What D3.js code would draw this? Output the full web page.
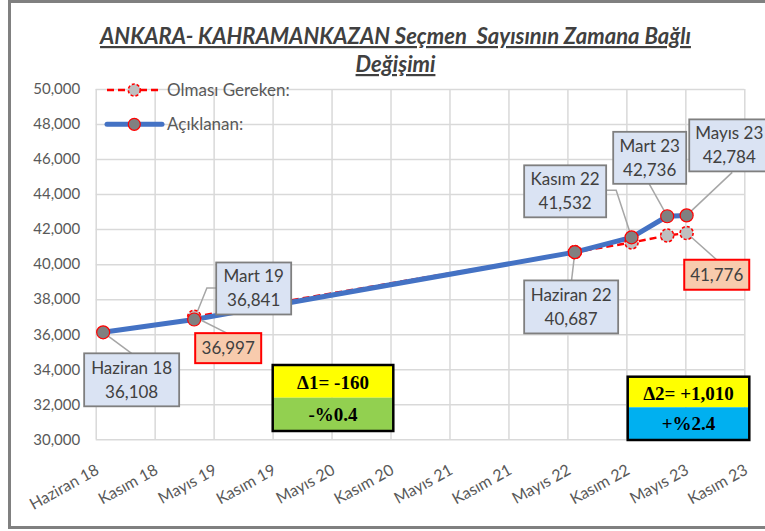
<!DOCTYPE html>
<html>
<head>
<meta charset="utf-8">
<script src="https://cdn.jsdelivr.net/npm/d3@7"></script>
<style>
body{margin:0;background:#fff;}
svg text{font-family:Lato,"Open Sans",sans-serif;}
</style>
</head>
<body>
<svg id="chart" width="765" height="531"></svg>
<script>
const titleLines = ['ANKARA- KAHRAMANKAZAN Seçmen  Sayısının Zamana Bağlı', 'Değişimi'];
const seriesNames = ['Olması Gereken:', 'Açıklanan:'];

// Açıklanan (blue)
const actualDates = ['2018-06-24','2019-04-01','2022-06-19','2022-12-11','2023-03-31','2023-05-30'];
const actualNames = ['Haziran 18','Mart 19','Haziran 22','Kasım 22','Mart 23','Mayıs 23'];
const actualValues = [36108, 36841, 40687, 41532, 42736, 42784];

// Olması Gereken (red dashed)
const expectedDates = ['2019-04-01','2022-06-19','2022-12-11','2023-03-31','2023-05-30'];
const expectedValues = [36997, 40687, 41234, 41634, 41776];

const yTicks = [30000, 32000, 34000, 36000, 38000, 40000, 42000, 44000, 46000, 48000, 50000];
const xTickDates = ['2018-06-01','2018-11-30','2019-05-31','2019-11-29','2020-05-29','2020-11-27',
                    '2021-05-28','2021-11-26','2022-05-27','2022-11-25','2023-05-26','2023-11-24'];
const xTickLabels = ['Haziran 18','Kasım 18','Mayıs 19','Kasım 19','Mayıs 20','Kasım 20',
                     'Mayıs 21','Kasım 21','Mayıs 22','Kasım 22','Mayıs 23','Kasım 23'];

const deltaTexts = [['Δ1= -160', '-%0.4'], ['Δ2= +1,010', '+%2.4']];

const parse = d3.timeParse('%Y-%m-%d');
const fmt = d3.format(',');
const actual = actualDates.map((d,i)=>({date: parse(d), value: actualValues[i], name: actualNames[i]}));
const expected = expectedDates.map((d,i)=>({date: parse(d), value: expectedValues[i]}));

const svg = d3.select('#chart');
const P = {l: 95.7, r: 744.3, t: 89, b: 439.3};

const x = d3.scaleTime().domain([parse(xTickDates[0]), parse(xTickDates[xTickDates.length-1])]).range([P.l, P.r]);
const y = d3.scaleLinear().domain([30000, 50000]).range([P.b, P.t]);

// outer frame
svg.append('rect').attr('x', 9.5).attr('y', 1.5).attr('width', 780).attr('height', 526)
  .attr('fill', '#fff').attr('stroke', '#808080').attr('stroke-width', 3);

// title
const title = svg.append('text').attr('text-anchor', 'middle')
  .attr('fill', '#404040').attr('font-size', 22).attr('font-weight', 'bold').attr('font-style', 'italic')
  .style('text-decoration', 'underline').style('white-space', 'pre');
title.selectAll('tspan').data(titleLines).enter().append('tspan')
  .attr('x', 395.5).attr('y', (d,i)=>44 + i*28).text(d=>d);

// y axis + horizontal grid
const gy = svg.append('g').attr('transform', 'translate(' + P.l + ',0)')
  .call(d3.axisLeft(y).tickValues(yTicks).tickSize(-(P.r - P.l)).tickPadding(15.5).tickFormat(fmt));
gy.select('.domain').remove();
gy.selectAll('line').attr('stroke', '#d9d9d9').attr('stroke-width', 1.5);
gy.selectAll('text').attr('fill', '#595959').attr('font-size', 15).attr('font-family', 'Lato');

// x axis + vertical grid
const gx = svg.append('g').attr('transform', 'translate(0,' + P.b + ')')
  .call(d3.axisBottom(x).tickValues(xTickDates.map(parse)).tickSize(-(P.b - P.t)).tickFormat((d,i)=>xTickLabels[i]));
gx.select('.domain').remove();
gx.selectAll('line').attr('stroke', '#d9d9d9').attr('stroke-width', 1.5);
gx.selectAll('text').attr('fill', '#595959').attr('font-size', 16).attr('font-family', 'Lato')
  .attr('text-anchor', 'end').attr('y', 0).attr('dy', 0)
  .attr('transform', 'translate(4,34) rotate(-29)');

// lines
const line = d3.line().x(d=>x(d.date)).y(d=>y(d.value));
svg.append('path').datum(expected).attr('d', line).attr('fill', 'none')
  .attr('stroke', '#ff0000').attr('stroke-width', 2.5).attr('stroke-dasharray', '7,4');
svg.append('path').datum(actual).attr('d', line).attr('fill', 'none')
  .attr('stroke', '#4472c4').attr('stroke-width', 5).attr('stroke-linejoin', 'round');

// data label layout: box offset from point, size, leader anchor in box, optional elbow
const labelLayout = [
  {s:'a', i:0, dx:-19,    dy:21,    w:95, h:53, ax:47.4, ay:0},
  {s:'a', i:1, dx:22,     dy:-57,   w:75, h:52, ax:0,    ay:25.6, elbow:-9.3},
  {s:'e', i:0, dx:1,      dy:16.4,  w:66, h:30, ax:31.7, ay:0},
  {s:'a', i:2, dx:-50.7,  dy:28.3,  w:94, h:53, ax:47.4, ay:0},
  {s:'a', i:3, dx:-107.4, dy:-72,   w:82, h:52, ax:82,   ay:25,   elbow:10},
  {s:'a', i:4, dx:-54,    dy:-84.4, w:73, h:52, ax:36,   ay:52},
  {s:'a', i:5, dx:2.6,    dy:-96,   w:80, h:52, ax:43,   ay:53},
  {s:'e', i:4, dx:-2.4,   dy:26.7,  w:65, h:30, ax:32.4, ay:0}
];

const labels = labelLayout.map(L=>{
  const d = (L.s === 'a' ? actual : expected)[L.i];
  const px = x(d.date), py = y(d.value);
  const bx = px + L.dx, by = py + L.dy;
  const lines = L.s === 'a' ? [d.name, fmt(d.value)] : [fmt(d.value)];
  return {L, px, py, bx, by, lines, red: L.s === 'e'};
});

// leaders
svg.append('g').selectAll('path').data(labels).enter().append('path')
  .attr('d', o=>{
    const ax = o.bx + o.L.ax, ay = o.by + o.L.ay;
    const pts = [[o.px, o.py]];
    if(o.L.elbow) pts.push([ax + o.L.elbow, ay]);
    pts.push([ax, ay]);
    return d3.line()(pts);
  })
  .attr('fill', 'none').attr('stroke', '#a6a6a6').attr('stroke-width', 1.5);

// markers
svg.append('g').selectAll('circle').data(expected).enter().append('circle')
  .attr('cx', d=>x(d.date)).attr('cy', d=>y(d.value)).attr('r', 6.5)
  .attr('fill', '#bfbfbf').attr('stroke', '#ff0000').attr('stroke-width', 1.6).attr('stroke-dasharray', '3,2');
svg.append('g').selectAll('circle').data(actual).enter().append('circle')
  .attr('cx', d=>x(d.date)).attr('cy', d=>y(d.value)).attr('r', 6.5)
  .attr('fill', '#808080').attr('stroke', '#ff0000').attr('stroke-width', 1.2);

// label boxes
const lg = svg.append('g').selectAll('g').data(labels).enter().append('g');
lg.append('rect').attr('x', o=>o.bx).attr('y', o=>o.by).attr('width', o=>o.L.w).attr('height', o=>o.L.h)
  .attr('fill', o=>o.red ? '#f8cbad' : '#dae3f3')
  .attr('stroke', o=>o.red ? '#ff0000' : '#7f7f7f').attr('stroke-width', o=>o.red ? 2 : 1.8);
lg.each(function(o){
  const g = d3.select(this);
  const cx = o.bx + o.L.w/2, cy = o.by + o.L.h/2;
  o.lines.forEach((t,k)=>{
    g.append('text').attr('x', cx).attr('y', cy + (k - (o.lines.length-1)/2)*24)
      .attr('dy', '0.35em').attr('text-anchor', 'middle')
      .attr('fill', '#404040').attr('font-size', 17).text(t);
  });
});

// legend
const legendY = [90, 124.3];
const leg = svg.append('g');
leg.append('line').attr('x1', 107).attr('x2', 162).attr('y1', legendY[0]).attr('y2', legendY[0])
  .attr('stroke', '#ff0000').attr('stroke-width', 2.5).attr('stroke-dasharray', '7,4');
leg.append('circle').attr('cx', 134.3).attr('cy', legendY[0]).attr('r', 6)
  .attr('fill', '#bfbfbf').attr('stroke', '#ff0000').attr('stroke-width', 1.6).attr('stroke-dasharray', '3,2');
leg.append('line').attr('x1', 107).attr('x2', 162).attr('y1', legendY[1]).attr('y2', legendY[1])
  .attr('stroke', '#4472c4').attr('stroke-width', 5).attr('stroke-linecap', 'round');
leg.append('circle').attr('cx', 134.3).attr('cy', legendY[1]).attr('r', 6)
  .attr('fill', '#808080').attr('stroke', '#ff0000').attr('stroke-width', 1.2);
leg.selectAll('text').data(seriesNames).enter().append('text')
  .attr('x', 167).attr('y', (d,i)=>legendY[i]).attr('dy', '0.35em')
  .attr('fill', '#595959').attr('font-size', 17).text(d=>d);

// delta boxes
const deltaBoxes = [
  {x:272.7, y:365,   w:120.6, h:66,   split:32.7, fills:['#ffff00', '#92d050']},
  {x:627.7, y:376.7, w:121.6, h:63.3, split:30.6, fills:['#ffff00', '#00b0f0']}
];
deltaBoxes.forEach((b,i)=>{
  const g = svg.append('g');
  g.append('rect').attr('x', b.x).attr('y', b.y).attr('width', b.w).attr('height', b.split).attr('fill', b.fills[0]);
  g.append('rect').attr('x', b.x).attr('y', b.y + b.split).attr('width', b.w).attr('height', b.h - b.split).attr('fill', b.fills[1]);
  g.append('rect').attr('x', b.x).attr('y', b.y).attr('width', b.w).attr('height', b.h)
    .attr('fill', 'none').attr('stroke', '#000').attr('stroke-width', 2.5);
  const ys = [b.y + b.split/2 + 1, b.y + b.split + (b.h - b.split)/2];
  deltaTexts[i].forEach((t,k)=>{
    g.append('text').attr('x', b.x + b.w/2).attr('y', ys[k]).attr('dy', '0.35em')
      .attr('text-anchor', 'middle').style('font-family', '"Liberation Serif", "DejaVu Serif", serif')
      .attr('font-weight', 'bold').attr('font-size', 19).attr('fill', '#000').text(t);
  });
});
</script>
</body>
</html>
